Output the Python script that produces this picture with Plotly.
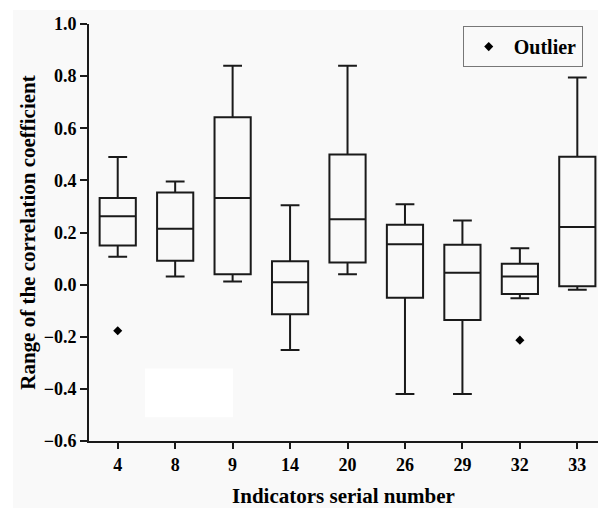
import plotly.graph_objects as go

categories = ["4", "8", "9", "14", "20", "26", "29", "32", "33"]
upper = [0.490, 0.396, 0.840, 0.305, 0.840, 0.308, 0.246, 0.140, 0.795]
q3 = [0.332, 0.353, 0.642, 0.090, 0.499, 0.230, 0.153, 0.080, 0.491]
median = [0.262, 0.214, 0.332, 0.009, 0.251, 0.155, 0.046, 0.031, 0.221]
q1 = [0.150, 0.092, 0.040, -0.114, 0.085, -0.050, -0.136, -0.036, -0.006]
lower = [0.107, 0.031, 0.012, -0.251, 0.040, -0.420, -0.420, -0.052, -0.020]
outlier_x = ["4", "32"]
outlier_y = [-0.177, -0.213]
y_ticks = [-0.6, -0.4, -0.2, 0.0, 0.2, 0.4, 0.6, 0.8, 1.0]

FONT = "Liberation Serif, Times New Roman, serif"
INK = "#1a1a1a"
BG = "#f9f9f9"

fig = go.Figure()
fig.add_trace(go.Box(
    x=categories, q1=q1, median=median, q3=q3,
    lowerfence=lower, upperfence=upper,
    boxpoints=False, fillcolor="rgba(0,0,0,0)",
    line=dict(color=INK, width=2), width=0.63, whiskerwidth=0.52,
    showlegend=False, name="box",
))
fig.add_trace(go.Scatter(
    x=outlier_x, y=outlier_y, mode="markers", name="Outlier",
    marker=dict(symbol="diamond", color="black", size=7),
))

fig.update_layout(
    width=598, height=508,
    margin=dict(l=89, r=0, t=24, b=67),
    paper_bgcolor=BG, plot_bgcolor=BG,
    font=dict(family=FONT, color="black"),
    showlegend=True,
    legend=dict(
        x=0.97, y=0.995, xanchor="right", yanchor="top",
        bgcolor=BG, bordercolor="#777777", borderwidth=1,
        font=dict(family=FONT, size=20, color="black", weight="bold"),
        itemwidth=40,
    ),
    shapes=[
        dict(type="rect", xref="paper", yref="paper", layer="below",
             x0=-0.2, x1=1.01, y0=1.0 + 14 / 416.7, y1=1.1,
             fillcolor="white", line=dict(width=0)),
        dict(type="rect", xref="paper", yref="paper", layer="below",
             x0=-0.2, x1=-76 / 509, y0=-0.2, y1=1.1,
             fillcolor="white", line=dict(width=0)),
        dict(type="rect", xref="paper", yref="paper", layer="above",
             x0=0.110, x1=0.283, y0=0.057, y1=0.174,
             fillcolor="white", line=dict(width=0)),
    ],
)
fig.update_xaxes(
    type="category", range=[-0.5, 8.36],
    showline=True, linewidth=2, linecolor=INK,
    ticks="outside", ticklen=6, tickwidth=2, tickcolor=INK,
    showgrid=False, zeroline=False,
    tickfont=dict(family=FONT, size=18, color="black", weight="bold"),
    title=dict(text="Indicators serial number", standoff=20,
               font=dict(family=FONT, size=21, color="black", weight="bold")),
)
fig.update_yaxes(
    range=[-0.6, 1.0], tickvals=y_ticks, tickformat=".1f",
    showline=True, linewidth=2, linecolor=INK,
    ticks="outside", ticklen=7, tickwidth=2, tickcolor=INK,
    showgrid=False, zeroline=False,
    tickfont=dict(family=FONT, size=18, color="black", weight="bold"),
    title=dict(text="Range of the correlation coefficient", standoff=2,
               font=dict(family=FONT, size=21, color="black", weight="bold")),
)

fig.write_html(
    "out.html",
    config={"displayModeBar": False},
    post_script="document.body.style.margin='0';document.body.style.overflow='hidden';",
)
